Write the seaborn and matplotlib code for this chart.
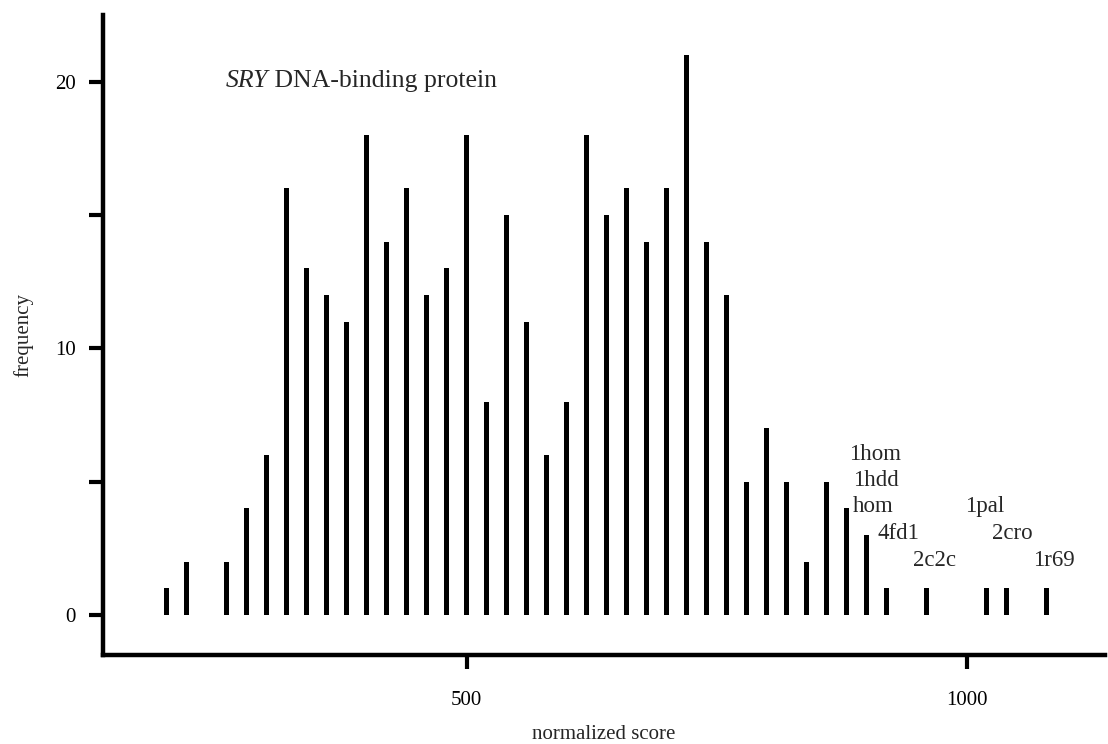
import matplotlib
matplotlib.use("Agg")
import matplotlib.pyplot as plt
import seaborn as sns
import pandas as pd

# normalized score bins and how many sequences fell in each
scores = [200, 220, 260, 280, 300, 320, 340, 360, 380, 400,
          420, 440, 460, 480, 500, 520, 540, 560, 580, 600,
          620, 640, 660, 680, 700, 720, 740, 760, 780, 800,
          820, 840, 860, 880, 900, 920, 960, 1020, 1040, 1080]
frequency = [1, 2, 2, 4, 6, 16, 13, 12, 11, 18,
             14, 16, 12, 13, 18, 8, 15, 11, 6, 8,
             18, 15, 16, 14, 16, 21, 14, 12, 5, 7,
             5, 2, 5, 4, 3, 1, 1, 1, 1, 1]

x_ticks = [500, 1000]
x_ticklabels = ["500", "1000"]
y_ticks = [0, 5, 10, 15, 20]
y_ticklabels = ["0", "", "10", "", "20"]

# known structures marked next to the high scoring bars
label_names = ["1hom", "1hdd", "hom", "4fd1", "2c2c", "1pal", "2cro", "1r69"]

# layout only: where each name sits (left edge, baseline) in data units
label_xy = [(882, 5.8), (886, 4.85), (886, 3.85), (911, 2.85),
            (946, 1.85), (998, 3.85), (1025, 2.85), (1066, 1.85)]

df = pd.DataFrame({"score": scores, "frequency": frequency})

sns.set_style("ticks")
plt.rcParams["font.family"] = ["Liberation Serif", "DejaVu Serif"]

fig, ax = plt.subplots(figsize=(11.08, 7.44), dpi=100)
fig.subplots_adjust(left=0.0932, right=0.9973, bottom=0.1196, top=0.9798)

sns.barplot(data=df, x="score", y="frequency", native_scale=True,
            width=0.26, color="black", saturation=1, errorbar=None,
            linewidth=0, ax=ax)

ax.set_xlim(136.6, 1138.3)
ax.set_ylim(-1.5, 22.5)

ax.set_xticks(x_ticks)
ax.set_xticklabels(x_ticklabels)
ax.set_yticks(y_ticks)
ax.set_yticklabels(y_ticklabels)

sns.despine(ax=ax)
for side in ["left", "bottom"]:
    ax.spines[side].set_linewidth(3.2)
    ax.spines[side].set_color("black")

ax.tick_params(axis="both", direction="out", length=10, width=3,
               color="black", labelsize=15, labelcolor="black")
ax.tick_params(axis="x", pad=16)
ax.tick_params(axis="y", pad=10)

ax.set_xlabel("normalized score", fontsize=15)
ax.set_ylabel("frequency", fontsize=15)
ax.xaxis.set_label_coords(0.5, -0.11)
ax.yaxis.set_label_coords(-0.07, 0.5)

# title inside the plot, gene name in italics
t1 = ax.text(259, 19.8, "SRY", fontsize=18.5, style="italic",
             ha="left", va="baseline")
ax.annotate(" DNA-binding protein", xy=(1, 0), xycoords=t1,
            fontsize=18.5, ha="left", va="bottom")

for name, (lx, ly) in zip(label_names, label_xy):
    ax.text(lx, ly, name, fontsize=16.5, ha="left", va="baseline")

fig.savefig("out.png", dpi=100)
